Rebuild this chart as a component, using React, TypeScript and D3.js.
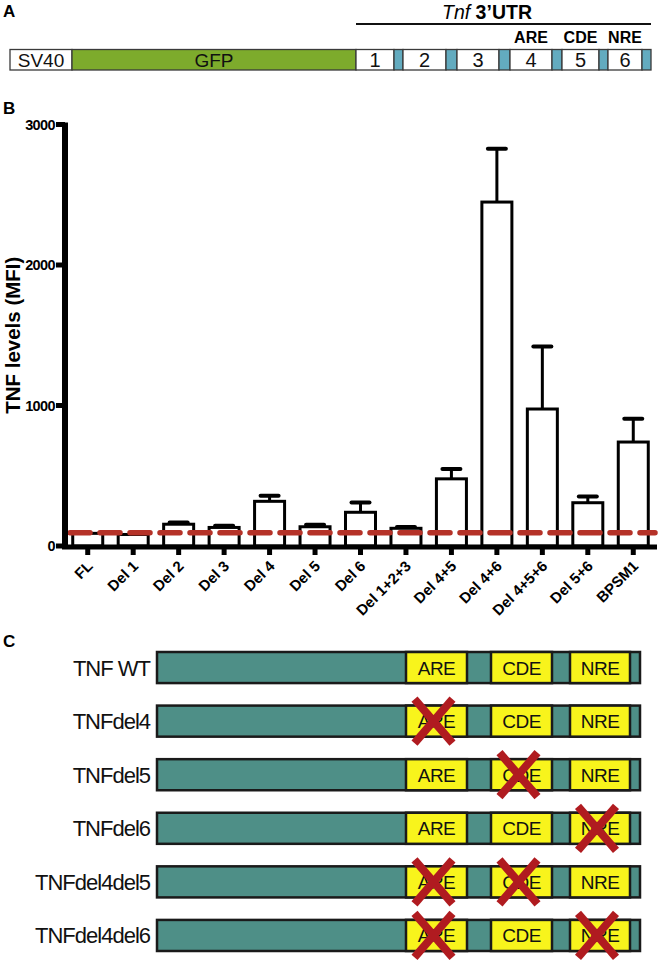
import React from "react";
import * as d3 from "d3";

// ---------- Panel A data ----------
const constructSegments = ["SV40", "GFP", "1", "s", "2", "s", "3", "s", "4", "s", "5", "s", "6", "s"];
const constructLengths = [62, 284, 38, 9, 43, 11, 42, 11, 42, 10, 37, 9, 34, 9];
const elementLabels = ["ARE", "CDE", "NRE"];
const elementOf = ["4", "5", "6"];

// ---------- Panel B data ----------
const categories = ["FL", "Del 1", "Del 2", "Del 3", "Del 4", "Del 5", "Del 6", "Del 1+2+3", "Del 4+5", "Del 4+6", "Del 4+5+6", "Del 5+6", "BPSM1"];
const means = [90, 82, 155, 132, 318, 137, 240, 126, 478, 2448, 975, 308, 740];
const errors = [0, 0, 12, 12, 40, 15, 70, 10, 70, 380, 445, 45, 165];
const yTicks = [0, 1000, 2000, 3000];
const referenceLevel = 95;

// ---------- Panel C data ----------
const variants = ["TNF WT", "TNFdel4", "TNFdel5", "TNFdel6", "TNFdel4del5", "TNFdel4del6"];
const deleted = [[], ["ARE"], ["CDE"], ["NRE"], ["ARE", "CDE"], ["ARE", "NRE"]];
const utrParts = ["t", "ARE", "t", "CDE", "t", "NRE", "t"];
const utrLengths = [249, 61, 24, 61, 18, 60, 10];

const FONT = "'Liberation Sans', Arial, Helvetica, sans-serif";

function PanelA() {
  const total = d3.sum(constructLengths);
  const x = d3.scaleLinear().domain([0, total]).range([10, 651]);
  const starts = d3.cumsum([0, ...constructLengths]);
  const y0 = 49.5, h = 20.5;
  const segFill = (s: string) => (s === "GFP" ? "#7dab2c" : s === "s" ? "#63abbf" : "#ffffff");
  const utrStart = x(starts[2]);
  const utrEnd = x(total);
  return (
    <g>
      <text x={3} y={17} fontFamily={FONT} fontWeight="bold" fontSize={17}>A</text>
      <text x={487} y={19} textAnchor="middle" fontFamily={FONT} fontSize={19.5}>
        <tspan fontStyle="italic">Tnf</tspan>
        <tspan fontWeight="bold"> 3’UTR</tspan>
      </text>
      <line x1={utrStart} x2={utrEnd} y1={24} y2={24} stroke="#111" strokeWidth={2} />
      {constructSegments.map((s, i) => {
        const xs = x(starts[i]);
        const xe = x(starts[i + 1]);
        return (
          <g key={i}>
            <rect x={xs} y={y0} width={xe - xs} height={h} fill={segFill(s)} stroke="#3a3a3a" strokeWidth={1.3} />
            {s !== "s" && (
              <text x={(xs + xe) / 2} y={y0 + h / 2 + 7} textAnchor="middle" fontFamily={FONT} fontSize={s === "SV40" || s === "GFP" ? 19 : 20} fill="#111">
                {s}
              </text>
            )}
          </g>
        );
      })}
      {elementLabels.map((l, i) => {
        const idx = constructSegments.indexOf(elementOf[i]);
        const cx = (x(starts[idx]) + x(starts[idx + 1])) / 2;
        return (
          <text key={l} x={cx} y={43} textAnchor="middle" fontFamily={FONT} fontWeight="bold" fontSize={16}>
            {l}
          </text>
        );
      })}
    </g>
  );
}

function PanelB() {
  const x = d3.scaleBand<string>().domain(categories).range([65, 656]).paddingInner(0.34).paddingOuter(0.17);
  const y = d3.scaleLinear().domain([0, 3000]).range([546, 124.5]);
  const axisX = 65;
  return (
    <g>
      <text x={3} y={114} fontFamily={FONT} fontWeight="bold" fontSize={17}>B</text>
      <text transform={`translate(19.5,${(y(0) + y(3000)) / 2}) rotate(-90)`} textAnchor="middle" fontFamily={FONT} fontWeight="bold" fontSize={20.5}>
        TNF levels (MFI)
      </text>
      {/* bars */}
      {categories.map((c, i) => {
        const bx = x(c)!;
        const bw = x.bandwidth();
        const cx = bx + bw / 2;
        return (
          <g key={c}>
            {errors[i] > 0 && (
              <g>
                <line x1={cx} x2={cx} y1={y(means[i])} y2={y(means[i] + errors[i])} stroke="#000" strokeWidth={3} />
                <line x1={cx - 9} x2={cx + 9} y1={y(means[i] + errors[i])} y2={y(means[i] + errors[i])} stroke="#000" strokeWidth={4} strokeLinecap="round" />
              </g>
            )}
            <rect x={bx} y={y(means[i])} width={bw} height={y(0) - y(means[i])} fill="#fff" stroke="#000" strokeWidth={3} />
          </g>
        );
      })}
      {/* reference dashed line */}
      <line x1={70} x2={655} y1={y(referenceLevel)} y2={y(referenceLevel)} stroke="#b53228" strokeWidth={5.5} strokeDasharray="20 10" strokeLinecap="round" />
      {/* y axis */}
      <line x1={axisX} x2={axisX} y1={y(3000) - 2} y2={y(0) + 3} stroke="#000" strokeWidth={6} />
      {yTicks.map((t) => (
        <g key={t}>
          <line x1={axisX - 9} x2={axisX} y1={y(t)} y2={y(t)} stroke="#000" strokeWidth={5} />
          <text x={axisX - 10} y={y(t) + 5} textAnchor="end" fontFamily={FONT} fontWeight="bold" fontSize={14.5} letterSpacing={-0.6}>
            {t}
          </text>
        </g>
      ))}
      {/* x axis */}
      <line x1={axisX - 3} x2={657} y1={y(0) + 1} y2={y(0) + 1} stroke="#000" strokeWidth={5} />
      {categories.map((c) => {
        const cx = x(c)! + x.bandwidth() / 2;
        return (
          <g key={c}>
            <line x1={cx} x2={cx} y1={y(0)} y2={y(0) + 9} stroke="#000" strokeWidth={5} />
            <text transform={`translate(${cx + 6},${y(0) + 21}) rotate(-45)`} textAnchor="end" fontFamily={FONT} fontWeight="bold" fontSize={15}>
              {c}
            </text>
          </g>
        );
      })}
    </g>
  );
}

function PanelC() {
  const total = d3.sum(utrLengths);
  const x = d3.scaleLinear().domain([0, total]).range([157, 640]);
  const starts = d3.cumsum([0, ...utrLengths]);
  const yRow = d3.scaleBand<string>().domain(variants).range([652, 951]).paddingInner(0.42).paddingOuter(0);
  const h = yRow.bandwidth();
  return (
    <g>
      <text x={3} y={647} fontFamily={FONT} fontWeight="bold" fontSize={17}>C</text>
      {variants.map((v, r) => {
        const y0 = yRow(v)!;
        return (
          <g key={v}>
            <text x={150} y={y0 + h / 2 + 8} textAnchor="end" fontFamily={FONT} fontSize={22} letterSpacing={-1} fill="#111">
              {v}
            </text>
            <rect x={x(0)} y={y0} width={x(total) - x(0)} height={h} fill="#4e8f87" stroke="#1a1a1a" strokeWidth={2.5} />
            {utrParts.map((p, i) =>
              p === "t" ? null : (
                <g key={i}>
                  <rect x={x(starts[i])} y={y0} width={x(starts[i + 1]) - x(starts[i])} height={h} fill="#f8f41c" stroke="#1a1a1a" strokeWidth={2.5} />
                  <text x={(x(starts[i]) + x(starts[i + 1])) / 2} y={y0 + h / 2 + 7} textAnchor="middle" fontFamily={FONT} fontSize={19} letterSpacing={-0.5} fill="#111">
                    {p}
                  </text>
                </g>
              )
            )}
            {deleted[r].map((p) => {
              const i = utrParts.indexOf(p);
              const cx = (x(starts[i]) + x(starts[i + 1])) / 2 - 3;
              const cy = y0 + h / 2;
              return (
                <g key={p} stroke="#b01b20" strokeWidth={8}>
                  <line x1={cx - 19} y1={cy - 22} x2={cx + 19} y2={cy + 22} />
                  <line x1={cx + 19} y1={cy - 22} x2={cx - 19} y2={cy + 22} />
                </g>
              );
            })}
          </g>
        );
      })}
    </g>
  );
}

export default function App() {
  return (
    <svg width={660} height={970} style={{ position: "absolute", left: 0, top: 0, background: "#fff" }}>
      <rect width={660} height={970} fill="#fff" />
      <PanelA />
      <PanelB />
      <PanelC />
    </svg>
  );
}
